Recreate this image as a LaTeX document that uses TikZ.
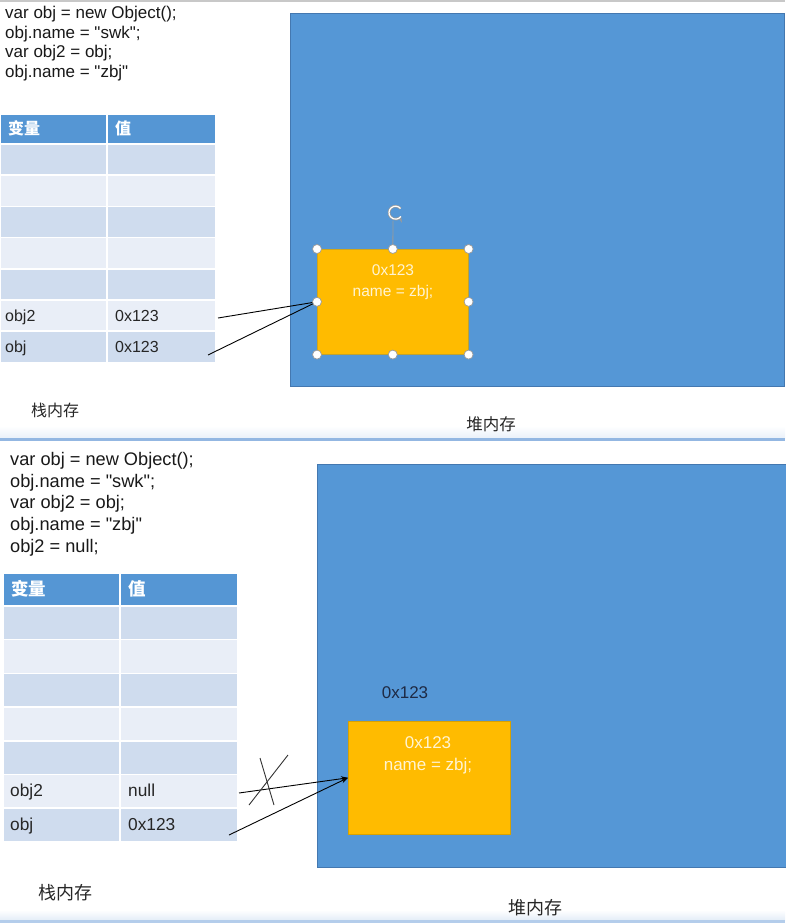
\documentclass[tikz,border=0pt]{standalone}
\usepackage{fontspec}
\setmainfont{Liberation Sans}[Ligatures=TeXOff]
\newfontfamily\cjk{Noto Sans CJK SC}
\usetikzlibrary{arrows.meta}
\definecolor{heap}{HTML}{5597D6}
\definecolor{heapdraw}{HTML}{4478B0}
\definecolor{thead}{HTML}{5596D4}
\definecolor{rowdark}{HTML}{CFDCEE}
\definecolor{rowlight}{HTML}{E9EEF7}
\definecolor{objfill}{HTML}{FFBB00}
\definecolor{objdraw}{HTML}{D9A200}
\definecolor{objtext}{HTML}{FFF4D2}
\definecolor{sepline}{HTML}{93B7E2}
\definecolor{handlegray}{HTML}{9A9A9A}
\definecolor{addr}{HTML}{1E2A44}
\definecolor{topgray}{HTML}{C8C8C8}
\begin{document}
\begin{tikzpicture}[x=1pt,y=-1pt,
  cell/.style={draw=white,line width=1.5pt},
  codeA/.style={anchor=base west,inner sep=0pt,font=\fontsize{17}{20}\selectfont,text=black!90},
  codeB/.style={anchor=base west,inner sep=0pt,font=\fontsize{18.2}{22}\selectfont,text=black!90},
  celltxtA/.style={anchor=base west,inner sep=0pt,font=\fontsize{16}{18}\selectfont,text=black!85},
  celltxtB/.style={anchor=base west,inner sep=0pt,font=\fontsize{17.3}{19}\selectfont,text=black!85},
  headA/.style={anchor=west,inner sep=0pt,text=white,font=\cjk\bfseries\fontsize{16}{18}\selectfont},
  headB/.style={anchor=west,inner sep=0pt,text=white,font=\cjk\bfseries\fontsize{17.5}{19}\selectfont},
  heapbox/.style={fill=heap,draw=heapdraw,line width=0.8pt},
  objbox/.style={fill=objfill,draw=objdraw,line width=0.6pt,inner sep=0pt},
  objtxt/.style={text=objtext,align=center,inner sep=0pt},
  memlbl/.style={inner sep=0pt,text=black!85},
  handle/.style={circle,fill=white,draw=handlegray,line width=0.7pt,minimum size=9pt,inner sep=0pt},
  link/.style={draw=black,line width=0.9pt},
  linkarrow/.style={draw=black,line width=0.9pt,-{Stealth[length=7pt,width=5pt]}}
]
\useasboundingbox (0,0) rectangle (785,923);
\fill[white] (0,0) rectangle (785,923);
% slide borders
\fill[topgray] (0,0) rectangle (785,2);
\shade[top color=white,bottom color=sepline!20] (0,426) rectangle (785,438);
\fill[sepline] (0,438) rectangle (785,440.5);
\shade[top color=white,bottom color=sepline!25] (0,910) rectangle (785,920);
\fill[sepline!70] (0,920) rectangle (785,923);

% ================= TOP PANEL =================
\node[codeA] (ca1) at (5,19) {var obj = new Object();};
\node[codeA] (ca2) at (5,38.5) {obj.name = "swk";};
\node[codeA] (ca3) at (5,58) {var obj2 = obj;};
\node[codeA] (ca4) at (5,77.5) {obj.name = "zbj"};

% stack table
\filldraw[cell,fill=thead] (0,114) rectangle (107,144);
\filldraw[cell,fill=thead] (107,114) rectangle (216,144);
\foreach \i/\c in {0/rowdark,1/rowlight,2/rowdark,3/rowlight,4/rowdark,5/rowlight,6/rowdark}{
  \filldraw[cell,fill=\c] (0,{144+31.2*\i}) rectangle (107,{144+31.2*(\i+1)});
  \filldraw[cell,fill=\c] (107,{144+31.2*\i}) rectangle (216,{144+31.2*(\i+1)});
}
\node[headA] (ha1) at (8,128) {变量};
\node[headA] (ha2) at (115,128) {值};
\node[celltxtA] (va2) at (5,321) {obj2};
\node[celltxtA] (xa2) at (115,321) {0x123};
\node[celltxtA] (va1) at (5,352.5) {obj};
\node[celltxtA] (xa1) at (115,352.5) {0x123};

% heap
\node[heapbox,minimum width=494pt,minimum height=373pt,anchor=north west,inner sep=0pt] (heapA) at (290,13) {};
\node[objbox,rounded corners=2pt,minimum width=151pt,minimum height=105pt,anchor=north west] (objA) at (317,249) {};
\node[objtxt,font=\fontsize{15.5}{21}\selectfont] (objAtxt) at (393,282) {0x123\\name = zbj;};

% connectors (top)
\coordinate (sa2) at (218,318);
\coordinate (sa1) at (208,355);
\draw[link] (sa2) -- (objA.west);
\draw[link] (sa1) -- (objA.west);

% selection handles
\draw[handlegray,line width=0.8pt] (objA.north) -- (393,221);
\draw[handlegray,line width=2.6pt,-{Stealth[length=5.5pt,width=8pt]}] (400.5,208.5) arc[start angle=40,end angle=330,radius=6.5pt];
\draw[white,line width=1.2pt] (400.5,208.5) arc[start angle=40,end angle=325,radius=6.5pt];
\foreach \a in {north west,north,north east,west,east,south west,south,south east}{
  \node[handle] at (objA.\a) {};
}

\node[memlbl,font=\cjk\fontsize{16}{18}\selectfont] (stackA) at (55,410) {栈内存};
\node[memlbl,font=\cjk\fontsize{16.5}{18}\selectfont] (heapAlbl) at (491,424) {堆内存};

% ================= BOTTOM PANEL =================
\node[codeB] (cb1) at (10,465) {var obj = new Object();};
\node[codeB] (cb2) at (10,487) {obj.name = "swk";};
\node[codeB] (cb3) at (10,508.5) {var obj2 = obj;};
\node[codeB] (cb4) at (10,530.5) {obj.name = "zbj"};
\node[codeB] (cb5) at (10,552) {obj2 = null;};

\filldraw[cell,fill=thead] (3,573) rectangle (120,606);
\filldraw[cell,fill=thead] (120,573) rectangle (238,606);
\foreach \i/\c in {0/rowdark,1/rowlight,2/rowdark,3/rowlight,4/rowdark,5/rowlight,6/rowdark}{
  \filldraw[cell,fill=\c] (3,{606+33.7*\i}) rectangle (120,{606+33.7*(\i+1)});
  \filldraw[cell,fill=\c] (120,{606+33.7*\i}) rectangle (238,{606+33.7*(\i+1)});
}
\node[headB] (hb1) at (11,589) {变量};
\node[headB] (hb2) at (128,589) {值};
\node[celltxtB] (vb2) at (10,796.5) {obj2};
\node[celltxtB] (xb2) at (128,796.5) {null};
\node[celltxtB] (vb1) at (10,830) {obj};
\node[celltxtB] (xb1) at (128,830) {0x123};

\node[heapbox,minimum width=470pt,minimum height=403pt,anchor=north west,inner sep=0pt] (heapB) at (317,464) {};
\node[objbox,minimum width=162pt,minimum height=113pt,anchor=north west] (objB) at (348,721) {};
\node[objtxt,font=\fontsize{17}{22}\selectfont] (objBtxt) at (428,755) {0x123\\name = zbj;};
\node[inner sep=0pt,text=addr,font=\fontsize{17}{20}\selectfont] (addrB) at (405,693) {0x123};

% connectors (bottom)
\coordinate (sb2) at (239,793);
\coordinate (sb1) at (229,835);
\draw[linkarrow] (sb2) -- (objB.west);
\draw[linkarrow] (sb1) -- (objB.west);
% cross-out mark
\coordinate (xa) at (260,758);
\coordinate (xb) at (274,805);
\coordinate (xc) at (288,755);
\coordinate (xd) at (249,805);
\draw[black!80,line width=0.9pt] (xa) -- (xb);
\draw[black!80,line width=0.9pt] (xc) -- (xd);

\node[memlbl,font=\cjk\fontsize{18}{20}\selectfont] (stackB) at (65,893) {栈内存};
\node[memlbl,font=\cjk\fontsize{18}{20}\selectfont] (heapBlbl) at (535,908) {堆内存};
\end{tikzpicture}
\end{document}
